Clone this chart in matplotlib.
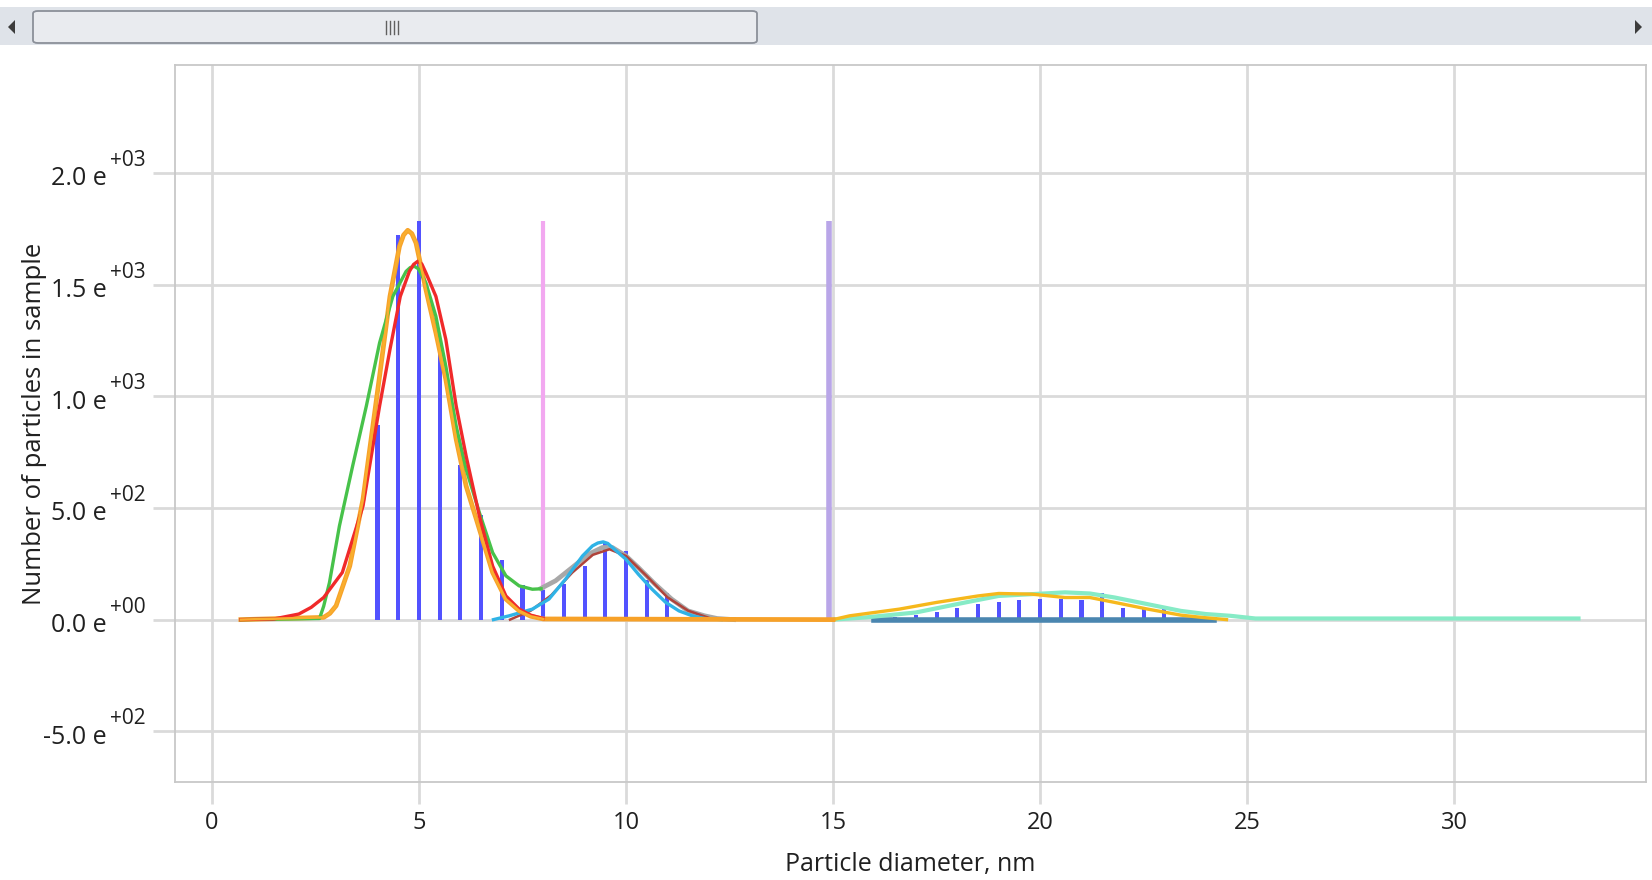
import numpy as np
import matplotlib.pyplot as plt
from matplotlib.patches import Rectangle, FancyBboxPatch, Polygon
from matplotlib.lines import Line2D
from matplotlib.transforms import ScaledTranslation

plt.rcParams['font.family'] = ['Open Sans', 'DejaVu Sans']

# histogram of counted particles (0.5 nm bins)
bin_centers = [4.0, 4.5, 5.0, 5.5, 6.0, 6.5, 7.0, 7.5, 8.0, 8.5, 9.0, 9.5, 10.0, 10.5, 11.0,
               16.5, 17.0, 17.5, 18.0, 18.5, 19.0, 19.5, 20.0, 20.5, 21.0, 21.5, 22.0, 22.5, 23.0]
counts = [872, 1724, 1784, 1208, 693, 469, 267, 155, 132, 160, 240, 349, 309, 177, 118,
          10, 20, 35, 51, 69, 80, 90, 92, 92, 87, 120, 53, 47, 53]

# fitted distributions, first mode
red_x = [0.7, 1.5, 2.1, 2.4, 2.7, 3.15, 3.65, 4.05, 4.3, 4.55, 4.77, 4.87, 4.97, 5.07, 5.17,
         5.41, 5.65, 5.9, 6.14, 6.46, 6.78, 7.1, 7.42, 7.7, 8.0]
red_y = [0, 3, 25, 55, 99, 211, 509, 956, 1209, 1447, 1559, 1590, 1604, 1592, 1552,
         1447, 1254, 956, 732, 464, 240, 106, 47, 20, 5]
orange_x = [0.7, 2.7, 2.85, 3.0, 3.33, 3.65, 4.05, 4.3, 4.53, 4.63, 4.73, 4.83, 4.93, 5.17,
            5.41, 5.65, 5.9, 6.14, 6.46, 6.78, 7.1, 7.42, 7.7, 8.0, 15.0]
orange_y = [0, 10, 28, 62, 240, 539, 1090, 1447, 1671, 1722, 1743, 1728, 1686, 1477,
            1284, 1075, 807, 598, 405, 211, 92, 40, 15, 3, 0]
green_x = [0.7, 2.6, 2.7, 2.84, 3.08, 3.4, 3.73, 4.05, 4.37, 4.69, 4.79, 4.89, 4.99, 5.17,
           5.41, 5.65, 5.9, 6.14, 6.46, 6.78, 7.1, 7.42, 7.74, 7.95]
green_y = [0, 5, 60, 166, 419, 688, 956, 1239, 1447, 1559, 1576, 1582, 1570, 1507,
           1358, 1134, 866, 673, 479, 300, 196, 151, 136, 138]

# second mode
gray_x = [7.95, 8.3, 8.7, 9.1, 9.43, 9.67, 10.0, 10.3, 10.7, 11.1, 11.5, 11.9, 12.2, 12.6]
gray_y = [140, 174, 233, 293, 323, 323, 285, 233, 159, 92, 39, 17, 5, 0]
brown_x = [7.2, 7.7, 8.2, 8.7, 9.2, 9.6, 10.0, 10.5, 11.0, 11.5, 12.0]
brown_y = [0, 40, 110, 210, 290, 315, 285, 195, 100, 40, 8]
cyan_x = [6.8, 7.18, 7.74, 8.14, 8.54, 8.95, 9.19, 9.32, 9.45, 9.56, 9.67, 10.0, 10.3,
          10.63, 10.96, 11.28, 11.6, 11.9, 12.3]
cyan_y = [0, 17, 47, 92, 181, 285, 330, 343, 348, 341, 323, 270, 203,
          136, 77, 39, 17, 5, 0]

# third mode
yellow_x = [15.0, 15.4, 16.6, 17.5, 18.5, 19.0, 19.8, 20.6, 21.2, 21.8, 22.6, 23.4, 23.9, 24.5]
yellow_y = [0, 17, 47, 77, 106, 117, 114, 99, 99, 77, 47, 20, 10, 0]
aqua_x = [15.0, 15.8, 17.0, 18.2, 19.0, 19.8, 20.6, 21.2, 21.8, 22.6, 23.4, 24.0, 24.6, 25.2, 33.0]
aqua_y = [0, 10, 32, 77, 106, 114, 122, 117, 99, 69, 39, 25, 17, 5, 5]
steel_x = [16.0, 24.2]
steel_y = [0, 0]

# range boundaries
bound_x = [8.0, 14.9]
bound_colors = ['#f2a8f0', '#b9a6e8']

xticks = [0, 5, 10, 15, 20, 25, 30]
yticks = [-500, 0, 500, 1000, 1500, 2000]
ytick_main = ['-5.0 e', '0.0 e', '5.0 e', '1.0 e', '1.5 e', '2.0 e']
ytick_exp = ['+02', '+00', '+02', '+03', '+03', '+03']

W, H = 1652, 880
fig = plt.figure(figsize=(W / 100, H / 100), dpi=100)


def fx(px):
    return px / W


def fy(py):
    return 1 - py / H


# scroll bar strip along the top
fig.add_artist(Rectangle((0, fy(45)), 1, fy(7) - fy(45), transform=fig.transFigure,
                         facecolor='#dfe3e9', edgecolor='none'))
fig.add_artist(FancyBboxPatch((fx(33), fy(43)), fx(757) - fx(33), fy(11) - fy(43),
                              boxstyle='round,pad=0,rounding_size=0.003',
                              transform=fig.transFigure, facecolor='#e9ebef',
                              edgecolor='#8b9099', linewidth=1.3))
for gx in [386, 390, 394, 398]:
    fig.add_artist(Line2D([fx(gx), fx(gx)], [fy(34), fy(21)], transform=fig.transFigure,
                          color='#606060', linewidth=1))
fig.add_artist(Polygon([[fx(8), fy(27)], [fx(15), fy(20)], [fx(15), fy(34)]],
                       transform=fig.transFigure, facecolor='#3c3c3c', edgecolor='none'))
fig.add_artist(Polygon([[fx(1642), fy(27)], [fx(1635), fy(20)], [fx(1635), fy(34)]],
                       transform=fig.transFigure, facecolor='#3c3c3c', edgecolor='none'))

ax = fig.add_axes([fx(175), fy(782), fx(1646) - fx(175), fy(65) - fy(782)])
ax.set_xlim(-0.89, 34.63)
ax.set_ylim(-727, 2483)

grid_c = '#dadada'
ax.grid(True, color=grid_c, linewidth=2)
ax.set_axisbelow(True)
for s in ax.spines.values():
    s.set_color('#c8c8c8')
    s.set_linewidth(1.3)

ax.bar(bin_centers, counts, width=0.1, color='#5252ff', zorder=3)

top = max(counts)
ax.vlines(bound_x[0], 0, top, color=bound_colors[0], linewidth=3, zorder=2)
ax.vlines(bound_x[1], 0, top, color=bound_colors[1], linewidth=4, zorder=2)

lw = 2.4
ax.plot(steel_x, steel_y, color='#4a86b0', linewidth=4, zorder=4)
ax.plot(aqua_x, aqua_y, color='#86ebc6', linewidth=lw + 0.6, zorder=5)
ax.plot(yellow_x, yellow_y, color='#f6b81c', linewidth=lw, zorder=5)
ax.plot(gray_x, gray_y, color='#a8a8a8', linewidth=lw + 1, zorder=4)
ax.plot(brown_x, brown_y, color='#b0433a', linewidth=lw - 0.6, zorder=5)
ax.plot(cyan_x, cyan_y, color='#2fb3e6', linewidth=lw, zorder=5)
ax.plot(orange_x, orange_y, color='#f7a128', linewidth=lw + 1, zorder=5)
ax.plot(green_x, green_y, color='#47c24a', linewidth=lw, zorder=6)
ax.plot(red_x, red_y, color='#f02a2a', linewidth=lw, zorder=6)
ax.plot(orange_x[:-1], orange_y[:-1], color='#f9ae2e', linewidth=lw - 0.6, zorder=7)

ax.set_xticks(xticks)
ax.set_xticklabels([str(t) for t in xticks])
ax.set_yticks(yticks)
ax.set_yticklabels(ytick_main)
ax.tick_params(axis='both', length=16, width=2, color=grid_c, labelcolor='#202020')
ax.tick_params(axis='x', labelsize=17, pad=5)
ax.tick_params(axis='y', labelsize=18, pad=33)
shift = ScaledTranslation(0, -3 / 100, fig.dpi_scale_trans)
for lab in ax.get_yticklabels():
    lab.set_transform(lab.get_transform() + shift)

for yv, ex in zip(yticks, ytick_exp):
    ax.annotate(ex, xy=(0, yv), xycoords=('axes fraction', 'data'),
                xytext=(-65, 7), textcoords='offset pixels',
                ha='left', va='baseline', fontsize=15, color='#202020')

ax.set_xlabel('Particle diameter, nm', fontsize=18, color='#202020')
ax.set_ylabel('Number of particles in sample', fontsize=18.5, color='#202020')
ax.xaxis.set_label_coords(0.5, -0.097)
ax.yaxis.set_label_coords(-0.087, 0.5)

fig.savefig('out.png', dpi=100, facecolor='white')
